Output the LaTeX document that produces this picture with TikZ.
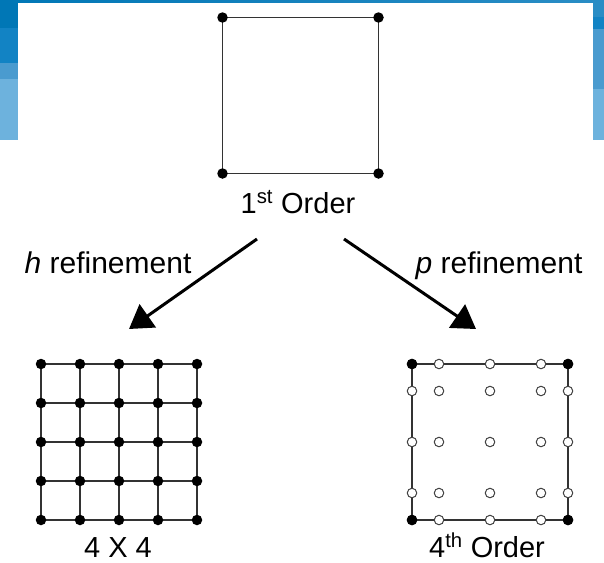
\documentclass[tikz,border=0pt]{standalone}
\usepackage{fontspec}
\setmainfont{Liberation Sans}
\usetikzlibrary{arrows.meta}
\definecolor{bandA}{HTML}{0077B6}
\definecolor{bandB}{HTML}{1283C4}
\definecolor{bandC}{HTML}{4A9BCF}
\definecolor{bandD}{HTML}{6DB2DD}
\definecolor{bandE}{HTML}{2A8DC5}

\begin{document}
\begin{tikzpicture}[x=1pt,y=-1pt,
    edge/.style={draw=black!80,line width=1.6pt},
    dot/.style={circle,fill=black,inner sep=0pt,minimum size=10.5pt},
    odot/.style={circle,draw=black!75,fill=white,line width=1pt,inner sep=0pt,minimum size=9.5pt},
    lbl/.style={font=\fontsize{29}{34}\selectfont,anchor=base,inner sep=0pt},
    refine/.style={line width=3pt,-{Triangle[length=23pt,width=28pt]}}]
  \useasboundingbox (0,0) rectangle (604,562);
  % slide background left over at the top
  \fill[bandA] (0,0) rectangle (17.5,28);
  \fill[bandB] (0,28) rectangle (17.5,63);
  \fill[bandC] (0,63) rectangle (17.5,79);
  \fill[bandD] (0,79) rectangle (17.5,140);
  \fill[bandE] (593.3,0) rectangle (604,17);
  \fill[bandB] (593.3,17) rectangle (604,29);
  \fill[bandC] (593.3,29) rectangle (604,89);
  \fill[bandD] (593.3,89) rectangle (604,140);
  \shade[left color=bandA,right color=bandE] (0,0) rectangle (604,2);

  % 1st order element
  \draw[edge] (222.5,17.5) rectangle (378.5,173.5);
  \foreach \x/\y [count=\k] in {222.5/17.5,378.5/17.5,222.5/173.5,378.5/173.5}
    \node[dot] (q\k) at (\x,\y) {};
  \node[lbl] (first) at (298,213) {1\textsuperscript{st} Order};

  % refinements
  \node[lbl,font=\fontsize{30}{34}\selectfont] (href) at (108,273) {\textit{h} refinement};
  \node[lbl,font=\fontsize{30}{34}\selectfont] (pref) at (499,273) {\textit{p} refinement};
  \coordinate (hs) at (257,239);
  \coordinate (ht) at (129,329);
  \coordinate (ps) at (344,239);
  \coordinate (pt) at (476,329);
  \draw[refine] (hs) -- (ht);
  \draw[refine] (ps) -- (pt);

  % h: 4 x 4 mesh
  \foreach \i in {0,...,4}
    \foreach \j in {0,...,4}
      \coordinate (g\i\j) at ({41+39*\i},{364+39*\j});
  \foreach \k in {0,...,4} {
    \draw[edge] (g0\k) -- (g4\k);
    \draw[edge] (g\k0) -- (g\k4);
  }
  \foreach \i in {0,...,4}
    \foreach \j in {0,...,4}
      \node[dot] at (g\i\j) {};
  \node[lbl] (hmesh) at (118,557) {4 X 4};

  % p: 4th order element, Lobatto points
  \draw[edge] (412,364) rectangle (568,520);
  \foreach \a [count=\i] in {0,27,78,129,156}
    \foreach \b [count=\j] in {0,27,78,129,156}
      \node[odot] (o\i\j) at ({412+\a},{364+\b}) {};
  \foreach \c in {11,15,51,55}
    \node[dot] at (o\c) {};
  \node[lbl] (pmesh) at (487,557) {4\textsuperscript{th} Order};
\end{tikzpicture}
\end{document}
